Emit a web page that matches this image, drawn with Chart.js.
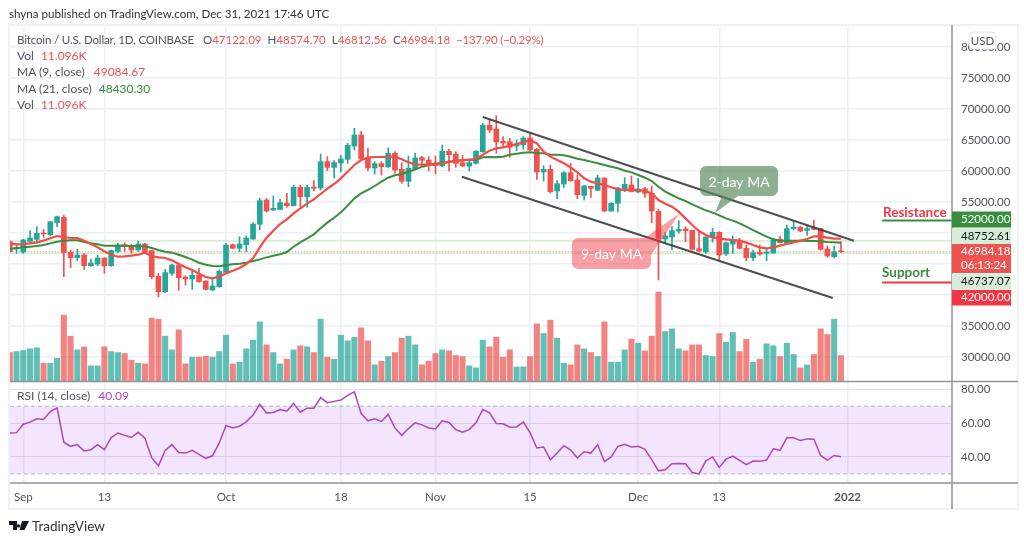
<!DOCTYPE html>
<html>
<head>
<meta charset="utf-8">
<title>BTC/USD</title>
<script src="https://cdn.jsdelivr.net/npm/chart.js@4/dist/chart.umd.min.js"></script>
<style>
  html,body{margin:0;padding:0;background:#fff;}
  #wrap{position:relative;width:1024px;height:543px;overflow:hidden;font-family:Lato,"Open Sans",sans-serif;color:#50535e;}
  canvas{position:absolute;left:0;top:0;}
  .t{position:absolute;white-space:pre;font-size:12px;line-height:14px;}
  .r{color:#ef5350;}
  .g{color:#388e3c;}
  .p{color:#ab47bc;}
</style>
</head>
<body>
<div id="wrap">
  <canvas id="c" width="1024" height="543"></canvas>
  <div class="t" style="left:9px;top:7px;color:#333;font-size:11.6px;">shyna published on TradingView.com, Dec 31, 2021 17:46 UTC</div>
  <div class="t" style="left:17px;top:33px;font-size:11.5px;"><span style="letter-spacing:-0.15px">Bitcoin / U.S. Dollar, 1D, COINBASE</span><span style="margin-left:9px">O</span><span class="r">47122.09</span><span style="margin-left:6px">H</span><span class="r">48574.70</span><span style="margin-left:6px">L</span><span class="r">46812.56</span><span style="margin-left:6px">C</span><span class="r">46984.18</span><span class="r" style="margin-left:6px;letter-spacing:-0.2px">−137.90 (−0.29%)</span></div>
  <div class="t" style="left:17px;top:49px;">Vol<span class="r" style="margin-left:7px">11.096K</span></div>
  <div class="t" style="left:17px;top:65px;">MA (9, close)<span class="r" style="margin-left:9px">49084.67</span></div>
  <div class="t" style="left:17px;top:82px;">MA (21, close)<span class="g" style="margin-left:7px">48430.30</span></div>
  <div class="t" style="left:17px;top:98px;">Vol<span class="r" style="margin-left:7px">11.096K</span></div>
  <div class="t" style="left:17px;top:389px;">RSI (14, close)<span class="p" style="margin-left:8px">40.09</span></div>
  <svg style="position:absolute;left:9px;top:521px" width="20" height="10" viewBox="0 0 20 10">
    <path d="M0 0H8V9H4V4H0Z M9.5 3.2a1.7 1.7 0 1 0 0.01 0Z M13 0H20L15.5 9H10.5Z" fill="#131722"/>
  </svg>
  <div class="t" style="left:32px;top:518px;font-size:13.5px;line-height:16px;color:#333;">TradingView</div>
</div>
<script>
// values, day 0 is Sep 1 2021, first candle is Aug 30
const firstDay = -2;
const opens = [48600,47470,46930,48655,48980,50000,49730,51665,52525,46880,46020,46450,44730,44995,45965,44730,47040,48115,47850,47255,48225,47150,43010,40535,43490,44835,42900,42580,43225,42255,40805,41340,43655,48115,47525,48115,49030,51400,55320,53710,53815,54840,54405,57365,55860,57420,57260,61505,60590,61290,61880,64030,65805,62045,60485,61185,60645,62850,60270,58335,60270,62150,61775,61240,60805,63170,62740,61345,60805,61240,63120,67365,66775,64785,64730,64030,64245,65325,63495,59840,60270,56775,57905,59730,58550,56075,57525,56880,58870,53545,54785,57045,57740,56610,57150,56400,53495,49030,49355,50320,50645,50430,47470,46935,49245,50105,46610,48225,48870,47525,46020,46880,46720,46775,48980,48330,50700,50915,50430,50915,50700,47420,46180,47122.09];
const highs = [48760,48170,48980,50375,51020,50590,51830,52740,52850,47255,47365,46720,45805,46395,46000,47255,48330,48440,48170,48710,48330,47255,43490,44140,44995,45105,43115,43925,44300,42310,42685,44030,48330,48225,49405,49515,51665,55590,55590,55965,55485,56400,57690,57690,57690,58440,62740,62310,61665,62525,64463,66885,66400,63655,61505,61505,63710,63120,61345,62420,62850,62365,62310,62420,64195,63550,63120,62525,61775,63300,67690,68335,68925,65540,65270,65000,65540,66075,63600,60860,60970,58440,59890,61240,59355,57690,57580,59355,58925,54890,57365,58925,59195,58815,57365,57580,53815,50055,51020,51990,51020,50480,50215,49405,50750,50215,48545,49515,49140,48060,47255,48060,47365,49140,49515,51290,51825,51130,51130,52095,50750,47900,47900,48574.70];
const lows = [46830,46720,46720,48330,48330,49300,49515,51020,42955,44405,45535,44140,44600,44730,43490,44600,46825,46990,46720,47040,46825,42580,39675,40400,43170,40750,41610,40910,42040,40805,40695,41250,43490,47470,46990,46990,48980,50480,53385,53600,53710,54140,54350,54245,54140,56775,56935,60055,58870,59840,61240,63390,61880,60055,59515,59355,60590,59625,58010,57470,60160,60970,60055,59515,60700,59995,60590,60700,60000,61100,63000,66185,62850,63925,62205,63280,63495,63280,58655,58385,56400,55535,57365,58335,55535,55320,55750,56830,53450,53495,53385,56665,56610,56505,55750,51665,42420,48330,47255,49945,48600,47255,46935,46720,48545,45645,46395,46720,47400,45535,45535,46395,45535,46720,48400,48225,50480,50215,49625,50480,47255,46075,45965,46812.56];
const closes = [46990,47687,48870,49190,49945,49840,51830,52630,46825,46020,46450,44730,45160,45965,44730,47150,48060,47795,47255,48225,46990,42955,40535,43600,44835,42795,42580,43170,42150,40910,41450,43815,48060,47525,48225,49190,51450,55215,53545,53980,54890,54405,57365,55860,57365,57205,61505,60590,61345,61935,64140,65805,61990,60485,61185,60700,62850,60160,58335,60430,62095,61720,60970,60860,63170,62635,61240,60805,61345,63170,67365,66615,64680,64515,63815,64300,65325,63390,59840,60270,56665,57955,59730,58440,56180,57580,57205,58870,53545,54785,57260,57850,56665,57095,56400,53545,49030,49515,50375,50590,50375,47365,47095,49355,50105,46450,48440,48870,47525,46020,46825,46610,46935,48870,48440,50700,50915,50320,50700,50590,47365,46290,46935,46984.18];
const volumes = [12.38,12.81,13.23,13.95,14.37,7.83,7.83,9.96,28.3,19.35,13.52,14.8,6.69,6.69,14.8,12.81,12.38,11.95,9.11,7.83,7.54,27.04,26.61,19.35,13.52,22.06,7.54,10.39,10.39,10.81,10.39,12.81,19.78,7.54,8.25,13.95,17.65,25.47,15.65,12.38,7.54,9.53,13.52,15.23,14.8,12.38,26.61,10.39,9.53,19.78,17.36,18.93,22.91,17.36,7.12,8.68,10.67,12.38,18.5,19.35,15.65,7.12,8.68,11.95,13.52,13.09,11.1,10.67,6.69,5.83,17.65,14.8,18.93,10.39,13.52,6.26,6.26,10.67,24.62,20.49,26.18,18.5,7.83,7.12,15.65,13.95,12.38,10.67,25.47,8.25,8.25,13.52,18.07,16.36,13.09,19.35,38.14,21.35,22.48,13.95,13.09,15.65,15.65,11.1,10.67,20.49,16.79,20.92,12.81,18.07,8.25,9.53,16.08,15.23,10.67,16.36,11.53,5.83,7.12,11.53,22.48,20.06,26.61,11.096];
const ma9 = [48330,48170,48220,48330,48490,48760,49140,49510,49350,49190,49190,48760,48220,47690,47040,46500,46180,46240,46340,46500,46830,46290,46070,45970,45590,45000,44460,44030,43440,42900,42690,42960,43490,43920,44350,45000,45910,47690,49250,50370,51450,52200,53170,53980,54730,55430,56290,57150,57900,58820,59890,60970,61770,62150,62260,62260,62310,62310,61880,61400,61080,61020,61020,61180,61240,61510,61610,61720,61830,61940,62630,63280,63660,63820,64090,64360,64620,65000,64460,63120,62310,61770,61240,60590,59780,58820,58280,58010,57740,57370,57040,56940,56940,56940,56770,56400,55320,54730,54250,53440,52360,51290,50320,49680,49300,49140,48980,48870,48760,48440,48060,47690,47530,47690,47960,48220,48490,48760,49030,49460,49460,49250,49080,49084.67];
const ma21 = [47420,47530,47690,47790,47900,48060,48330,48600,48760,48820,48820,48550,48330,48170,47960,47960,47960,47960,47900,47850,47850,47580,47260,46990,46830,46500,46130,45700,45210,44890,44680,44620,44840,44950,45050,45210,45480,45750,46070,46340,46560,46930,47790,48490,49140,49780,50750,51670,52470,53330,54410,55590,56400,56940,57580,58280,58920,59300,59520,59890,60270,60700,60970,61130,61340,61510,61610,61770,61770,61830,62200,62260,62200,62310,62630,62800,62960,63010,62900,62850,62630,62630,62530,62310,61990,61770,61510,61240,60970,60700,60430,60050,59780,59350,58920,58390,57470,56670,56130,55590,55160,54620,54140,53660,53280,52850,52360,51990,51560,51020,50480,49950,49410,48980,48760,48760,48760,48760,48710,48710,48650,48550,48490,48430.30];
const rsi = [54.2,54.4,59.4,60.6,62.6,62.2,66.9,69.1,48.7,46.3,47.3,43.5,44.3,47.3,44.3,51.5,54.2,52.8,51.5,54.6,51.1,39.6,34.8,43.9,47.3,42.7,42.3,43.9,41.5,39.2,40.7,48.3,58.6,57.2,58.2,60.8,64.8,71.1,66.1,66.3,68.1,67.1,71.7,66.5,68.9,68.9,75.1,72.1,72.9,73.7,76.5,78.6,65.7,61.4,62.6,61,65.2,57.2,52.8,56.8,60.2,59,57.2,56.6,61.4,60.4,56.2,54.6,56.2,60.2,68.1,66.1,59.8,59.6,57.6,57.8,60.6,54.2,45.3,45.9,38.4,42.3,46.7,44.1,39.4,43.1,42.3,47.3,37.2,40,46.3,47.5,45.9,46.3,44.5,38.4,31.8,32.4,36,36.2,36,30.8,30,37.6,40,33.8,38.8,40.5,38,35.4,37.6,37.4,38.2,44.9,43.9,51.3,51.3,49.7,50.7,50.5,40.9,38.2,40.9,40.09];

const tickDays = [0,12,30,47,61,75,91,103,122];
const tickLabels = ['Sep','13','Oct','18','Nov','15','Dec','13','2022'];
const priceTicks = [30000,35000,40000,45000,50000,55000,60000,65000,70000,75000,80000];
const hiddenPriceLabels = [40000,45000,50000];
const rsiTicks = [40,60,80];

// drawn trend channel, [day, price]
const upperChannel = [[68,68710],[122.9,48760]];
const lowerChannel = [[64.9,59080],[119.8,39520]];
const resistance = 52000, support = 42000;
const lastPrice = 46984.18, ma9Line = 48752.61, ma21Line = 46737.07;

const TEAL = '#26a69a', RED = '#ef5350';
const days = opens.map((_, i) => firstDay + i);
const up = i => closes[i] >= opens[i];
const candleColor = i => up(i) ? TEAL : RED;
const pts = arr => arr.map((v, i) => ({x: days[i], y: v}));
const hline = v => [{x: -2, y: v}, {x: 138, y: v}];
const seg = a => a.map(p => ({x: p[0], y: p[1]}));

const sans = 'Lato,"Open Sans",sans-serif';

const overlay = {
  id: 'overlay',
  beforeDatasetsDraw(chart) {
    // RSI band
    const {ctx, chartArea: a, scales} = chart;
    const y70 = scales.rsi.getPixelForValue(70), y30 = scales.rsi.getPixelForValue(30);
    ctx.save();
    ctx.fillStyle = 'rgba(170,70,240,0.14)';
    ctx.fillRect(a.left, y70, a.right - a.left, y30 - y70);
    ctx.strokeStyle = '#b2b5be';
    ctx.lineWidth = 1;
    ctx.setLineDash([4, 3]);
    [y70, y30].forEach(y => { ctx.beginPath(); ctx.moveTo(a.left, y); ctx.lineTo(a.right, y); ctx.stroke(); });
    ctx.restore();
  },
  afterDraw(chart) {
    const {ctx, chartArea: a, scales} = chart;
    ctx.save();
    // frame and pane separators
    ctx.strokeStyle = '#eef2f6';
    ctx.lineWidth = 2;
    ctx.strokeRect(9, 25, 1009, 484);
    ctx.strokeStyle = '#8f929a';
    ctx.lineWidth = 1.5;
    ctx.beginPath();
    ctx.moveTo(a.left, 381.5); ctx.lineTo(1018, 381.5);
    ctx.moveTo(a.left, 483); ctx.lineTo(1018, 483);
    ctx.moveTo(952, 25); ctx.lineTo(952, 509);
    ctx.stroke();

    // RSI labels on the shared axis
    ctx.font = '11.5px ' + sans;
    ctx.fillStyle = '#50535e';
    ctx.textBaseline = 'middle';
    rsiTicks.forEach(v => ctx.fillText(v.toFixed(2), 961, scales.rsi.getPixelForValue(v)));

    // price tags
    const tag = (top, h, bg, fg, lines) => {
      ctx.fillStyle = bg;
      ctx.fillRect(952, top, 59, h);
      ctx.fillStyle = fg;
      lines.forEach((s, i) => ctx.fillText(s, 961, top + h * (i + 0.5) / lines.length));
    };
    tag(211.5, 16, '#388e3c', '#fff', ['52000.00']);
    tag(228, 16, '#d8ecd8', '#131722', ['48752.61']);
    tag(244, 29, '#ef5350', '#fff', ['46984.18', '06:13:24']);
    tag(274, 15.5, '#d8ecd8', '#131722', ['46737.07']);
    tag(290, 15.5, '#f23645', '#fff', ['42000.00']);

    // USD button
    ctx.fillStyle = '#fff';
    ctx.strokeStyle = '#e0e3eb';
    ctx.lineWidth = 1;
    ctx.beginPath(); ctx.roundRect(969, 32, 27, 17, 4); ctx.fill(); ctx.stroke();
    ctx.fillStyle = '#50535e';
    ctx.textAlign = 'center';
    ctx.fillText('USD', 982.5, 41);

    // callouts
    const callout = (x, y, w, h, tail, fill, text) => {
      ctx.fillStyle = fill;
      ctx.beginPath();
      ctx.roundRect(x, y, w, h, 6);
      ctx.moveTo(tail[0], tail[1]); ctx.lineTo(tail[2], tail[3]); ctx.lineTo(tail[4], tail[5]); ctx.closePath();
      ctx.fill();
      ctx.fillStyle = '#fff';
      ctx.font = '14px ' + sans;
      ctx.fillText(text, x + w / 2, y + h / 2 + 1);
    };
    callout(700, 166, 78, 30, [722, 196, 715, 213, 738, 196], 'rgba(88,138,92,0.68)', '2-day MA');
    callout(572, 238, 79, 31, [645, 238, 680, 213, 651, 255], 'rgba(242,54,69,0.48)', '9-day MA');

    // level names
    ctx.textAlign = 'left';
    ctx.font = 'bold 13.5px ' + sans;
    ctx.fillStyle = '#f23645';
    ctx.fillText('Resistance', 883, 213);
    ctx.fillStyle = '#388e3c';
    ctx.fillText('Support', 882, 273);
    ctx.restore();
  }
};

const lineDs = (data, color, width, order, extra) => Object.assign(
  {type: 'line', data, borderColor: color, borderWidth: width, pointRadius: 0, order, yAxisID: 'y', fill: false}, extra);

new Chart(document.getElementById('c'), {
  type: 'bar',
  data: {
    datasets: [
      {data: pts(volumes), yAxisID: 'vol', order: 10, grouped: false, barThickness: 5.4,
        backgroundColor: opens.map((_, i) => up(i) ? 'rgba(38,166,154,0.72)' : 'rgba(239,83,80,0.72)')},
      lineDs(hline(ma9Line), '#d9ecd6', 2, 9),
      lineDs(hline(ma21Line), '#d9ecd6', 2, 9),
      lineDs(hline(lastPrice), 'rgba(239,83,80,0.7)', 1, 8, {borderDash: [1, 2]}),
      {data: days.map((d, i) => ({x: d, y: [lows[i], highs[i]]})), yAxisID: 'y', order: 7, grouped: false, barThickness: 1,
        backgroundColor: opens.map((_, i) => candleColor(i))},
      {data: days.map((d, i) => ({x: d, y: [opens[i], closes[i]]})), yAxisID: 'y', order: 6, grouped: false, barThickness: 5, minBarLength: 1,
        backgroundColor: opens.map((_, i) => candleColor(i))},
      lineDs(seg(upperChannel), 'rgba(60,60,60,0.9)', 2, 5),
      lineDs(seg(lowerChannel), 'rgba(60,60,60,0.9)', 2, 5),
      lineDs(pts(ma21), '#388e3c', 2, 3),
      lineDs(pts(ma9), '#f44c47', 2.2, 2),
      lineDs(pts(rsi), '#ab47bc', 1.5, 1, {yAxisID: 'rsi'}),
      lineDs([{x: 127.1, y: resistance}, {x: 138, y: resistance}], '#388e3c', 2, 4),
      lineDs([{x: 127.1, y: support}, {x: 138, y: support}], '#f23645', 2, 4)
    ]
  },
  options: {
    responsive: false,
    animation: false,
    events: [],
    layout: {padding: {left: 10, right: 6, top: 27, bottom: 33}},
    plugins: {legend: {display: false}, tooltip: {enabled: false}},
    scales: {
      x: {
        type: 'linear', min: -1.968, max: 137.44, offset: false,
        grid: {color: '#eaf0f5', lineWidth: 1.5, drawTicks: false, offset: false},
        border: {display: false},
        afterBuildTicks: s => { s.ticks = tickDays.map(v => ({value: v})); },
        afterFit: s => { s.height = 27; },
        ticks: {
          autoSkip: false, maxRotation: 0, padding: 7, color: '#50535e',
          font: c => ({family: sans, size: 11.5, weight: c.tick && c.tick.value === 122 ? 'bold' : 'normal'}),
          callback: v => tickLabels[tickDays.indexOf(v)]
        }
      },
      y: {
        position: 'right', min: 9677, max: 83226,
        grid: {color: '#eaf0f5', lineWidth: 1.5, drawTicks: false},
        border: {display: false},
        afterBuildTicks: s => { s.ticks = priceTicks.map(v => ({value: v})); },
        afterFit: s => { s.width = 66; },
        ticks: {
          padding: 9, color: '#50535e', font: {family: sans, size: 11.5},
          callback: v => hiddenPriceLabels.includes(v) ? '' : v.toFixed(2)
        }
      },
      rsi: {
        position: 'right', min: 24.6, max: 294.4,
        grid: {color: '#e3dff0', lineWidth: 1, drawTicks: false},
        border: {display: false},
        afterBuildTicks: s => { s.ticks = rsiTicks.map(v => ({value: v})); },
        afterFit: s => { s.width = 0; },
        ticks: {display: false}
      },
      vol: {display: false, min: -43.3, max: 151.3}
    }
  },
  plugins: [overlay]
});
</script>
</body>
</html>
